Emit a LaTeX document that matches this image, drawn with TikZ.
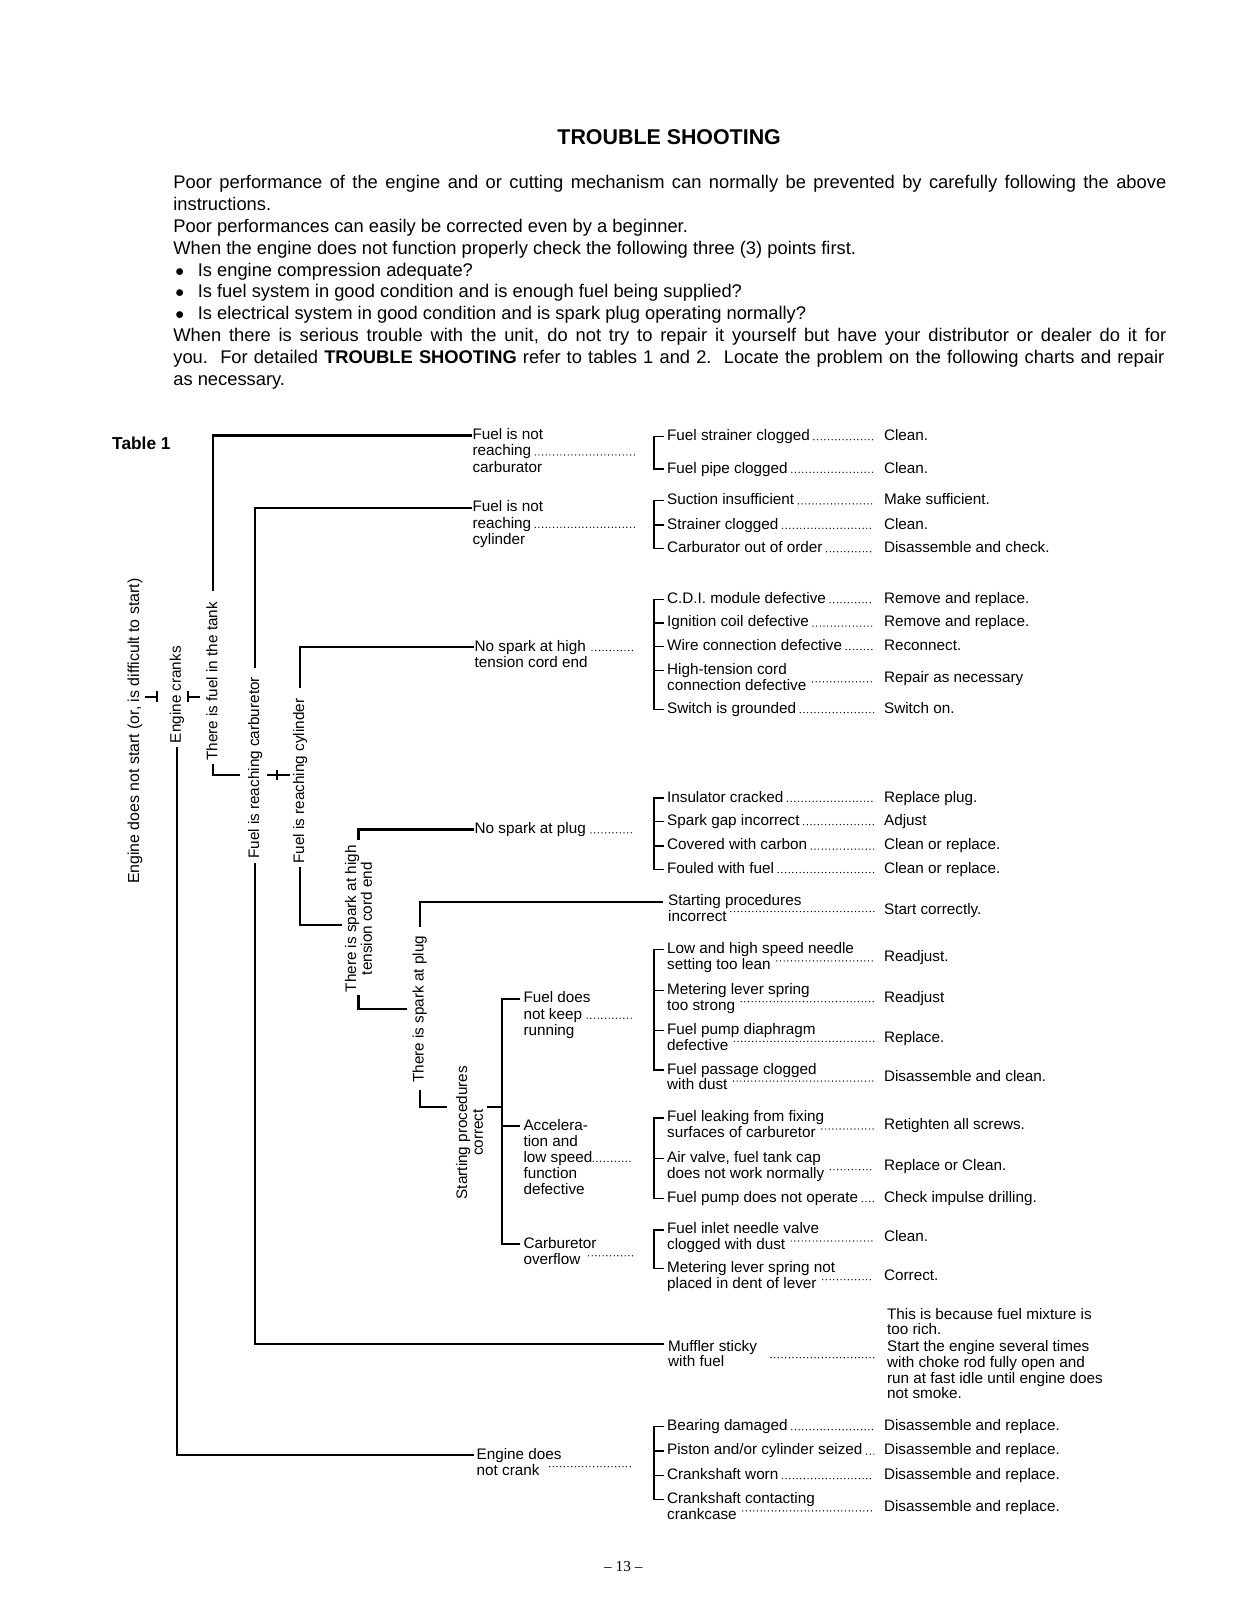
\documentclass[tikz,border=0pt]{standalone}
\usepackage{fontspec}
\setmainfont{Liberation Sans}
\newfontfamily\pgserif{Liberation Serif}
\usetikzlibrary{calc}
\newcommand\tabfont{\fontsize{15}{15.5}\selectfont}
\newcommand\hdfont{\fontsize{18}{22}\selectfont}
\tikzset{
  tb/.style={font=\tabfont, inner sep=0pt, outer sep=0pt, anchor=base west, text height=11pt, text depth=3pt},
  hd/.style={font=\hdfont, inner sep=0pt, anchor=base west},
  rot/.style={font=\tabfont, inner sep=0pt, rotate=90, anchor=center, text height=11pt, text depth=3pt},
  rottwo/.style={font=\tabfont, inner sep=0pt, rotate=90, anchor=center, align=center},
  tree/.style={line width=2.2pt, draw=black},
  brk/.style={line width=1.4pt, draw=black},
  leader/.style={line width=1.4pt, line cap=round, dash pattern=on 0pt off 3.6pt, draw=black},
}
\newcommand\itm[4]{%
  \node[tb] (#1) at (655,#2+4.5) {#3};
  \node[tb] (#1r) at (868,#2+4.5) {#4};
  \coordinate (#1e) at (858,#2+3.7);
  \path (#1.base east) ++(4pt,0) coordinate (#1s);
  \draw[leader] (#1s |- #1e) -- (#1e);
}
\newcommand\itmii[5]{%
  \node[tb] (#1) at (655,#2+4.5) {#3};
  \node[tb] (#1b) at (655,#2+20) {#4};
  \node[tb] (#1r) at (868,#2+12.25) {#5};
  \coordinate (#1e) at (858,#2+11.45);
  \path (#1b.base east) ++(6pt,0) coordinate (#1s);
  \draw[leader] (#1s |- #1e) -- (#1e);
}
\newcommand\leaddots[5]{%
  \path (#1.base east) ++(#2,0) coordinate (#5s);
  \coordinate (#5e) at (#3,#4);
  \draw[leader] (#5s |- #5e) -- (#5e);
}
\newcommand\brtick[1]{\draw[brk] ([xshift=-13pt]#1.west) -- ([xshift=-3pt]#1.west);}
\newcommand\brgrp[2]{\draw[brk] ([xshift=-3pt]#1.west) -- ++(-10pt,0) |- ([xshift=-3pt]#2.west);}
\begin{document}
\begin{tikzpicture}[x=1pt,y=-1pt]
\useasboundingbox (0,0) rectangle (1219,1568);
\fill[white] (0,0) rectangle (1219,1568);

% ---------- header ----------
\node[font=\bfseries\fontsize{21}{24}\selectfont, inner sep=0pt, anchor=base] (title) at (657,141.5) {TROUBLE SHOOTING};
\node[hd] (h1) at (170,185) {\makebox[975pt][s]{Poor performance of the engine and or cutting mechanism can normally be prevented by carefully following the above}};
\node[hd] (h2) at (170,206.5) {instructions.};
\node[hd] (h3) at (170,228) {Poor performances can easily be corrected even by a beginner.};
\node[hd] (h4) at (170,249.5) {When the engine does not function properly check the following three (3) points first.};
\node[hd] (b1) at (172,271) {$\bullet$};
\node[hd] (h5) at (194,271) {Is engine compression adequate?};
\node[hd] (b2) at (172,292.5) {$\bullet$};
\node[hd] (h6) at (194,292.5) {Is fuel system in good condition and is enough fuel being supplied?};
\node[hd] (b3) at (172,314) {$\bullet$};
\node[hd] (h7) at (194,314) {Is electrical system in good condition and is spark plug operating normally?};
\node[hd] (h8) at (170,335.5) {\makebox[975pt][s]{When there is serious trouble with the unit, do not try to repair it yourself but have your distributor or dealer do it for}};
\node[hd] (h9) at (170,357) {\makebox[973pt][s]{you.\ \ For detailed \textbf{TROUBLE SHOOTING} refer to tables 1 and 2.\ \ Locate the problem on the following charts and repair}};
\node[hd] (h10) at (170,378.5) {as necessary.};

\node[font=\bfseries\fontsize{17}{20}\selectfont, inner sep=0pt, anchor=base west] (tab) at (110,441) {Table 1};

% ---------- rotated conditions ----------
\node[rot, font=\fontsize{15.6}{16}\selectfont] (root) at (132.5,718) {Engine does not start (or, is difficult to start)};
\node[rot] (cranks) at (173.5,682) {Engine cranks};
\node[rot] (tank) at (209.5,669) {There is fuel in the tank};
\node[rot] (carb) at (250.5,754) {Fuel is reaching carburetor};
\node[rot] (cyl) at (294.5,767) {Fuel is reaching cylinder};
\node[rottwo] (sph) at (352,902) {There is spark at high\\tension cord end};
\node[rot] (spp) at (412,991) {There is spark at plug};
\node[rottwo] (spc) at (461,1112) {Starting procedures\\correct};

% ---------- middle labels ----------
\node[tb] (m1a) at (464,431.5) {Fuel is not};
\node[tb] (m1b) at (464,447.5) {reaching};
\node[tb] (m1c) at (464,463.5) {carburator};
\leaddots{m1b}{4pt}{625}{446.7}{m1d}
\node[tb] (m2a) at (464,502.5) {Fuel is not};
\node[tb] (m2b) at (464,518.5) {reaching};
\node[tb] (m2c) at (464,534.5) {cylinder};
\leaddots{m2b}{4pt}{625}{517.7}{m2d}
\node[tb] (m3a) at (466,639.5) {No spark at high};
\node[tb] (m3b) at (466,655.5) {tension cord end};
\leaddots{m3a}{6pt}{622}{638.7}{m3d}
\node[tb] (m4) at (466,818.5) {No spark at plug};
\leaddots{m4}{5pt}{622}{817.7}{m4d}
\node[tb] (m5a) at (514,984.5) {Fuel does};
\node[tb] (m5b) at (514,1000.5) {not keep};
\node[tb] (m5c) at (514,1016.5) {running};
\leaddots{m5b}{5pt}{622}{999.7}{m5d}
\node[tb] (m6a) at (514,1109.5) {Accelera-};
\node[tb] (m6b) at (514,1125.25) {tion and};
\node[tb] (m6c) at (514,1141) {low speed};
\node[tb] (m6d) at (514,1156.75) {function};
\node[tb] (m6e) at (514,1172.5) {defective};
\leaddots{m6c}{1pt}{622}{1140.2}{m6f}
\node[tb] (m7a) at (514,1225.5) {Carburetor};
\node[tb] (m7b) at (514,1241.5) {overflow};
\leaddots{m7b}{8pt}{622}{1233}{m7d}
\node[tb] (m8a) at (468,1432.5) {Engine does};
\node[tb] (m8b) at (468,1448.5) {not crank};
\leaddots{m8b}{10pt}{622}{1440}{m8d}

% ---------- causes and remedies ----------
\itm{A1}{428}{Fuel strainer clogged}{Clean.}
\itm{A2}{460}{Fuel pipe clogged}{Clean.}
\brgrp{A1}{A2}
\itm{B1}{491}{Suction insufficient}{Make sufficient.}
\itm{B2}{515}{Strainer clogged}{Clean.}
\itm{B3}{538}{Carburator out of order}{Disassemble and check.}
\brgrp{B1}{B3}\brtick{B2}
\itm{C1}{588}{C.D.I. module defective}{Remove and replace.}
\itm{C2}{611}{Ignition coil defective}{Remove and replace.}
\itm{C3}{634}{Wire connection defective}{Reconnect.}
\itmii{C4}{658}{High-tension cord}{connection defective}{Repair as necessary}
\itm{C5}{696}{Switch is grounded}{Switch on.}
\brgrp{C1}{C5}\brtick{C2}\brtick{C3}\brtick{C4}
\itm{D1}{783}{Insulator cracked}{Replace plug.}
\itm{D2}{806}{Spark gap incorrect}{Adjust}
\itm{D3}{830}{Covered with carbon}{Clean or replace.}
\itm{D4}{853}{Fouled with fuel}{Clean or replace.}
\brgrp{D1}{D4}\brtick{D2}\brtick{D3}
\node[tb] (spi) at (656,889.5) {Starting procedures};
\node[tb] (spib) at (656,904.5) {incorrect};
\node[tb] (spir) at (868,897.5) {Start correctly.};
\leaddots{spib}{4pt}{858}{895}{spid}
\itmii{E1}{932}{Low and high speed needle}{setting too lean}{Readjust.}
\itmii{E2}{972}{Metering lever spring}{too strong}{Readjust}
\itmii{E3}{1011}{Fuel pump diaphragm}{defective}{Replace.}
\itmii{E4}{1050}{Fuel passage clogged}{with dust}{Disassemble and clean.}
\brgrp{E1}{E4}\brtick{E2}\brtick{E3}
\itmii{F1}{1097}{Fuel leaking from fixing}{surfaces of carburetor}{Retighten all screws.}
\itmii{F2}{1137}{Air valve, fuel tank cap}{does not work normally}{Replace or Clean.}
\itm{F3}{1176}{Fuel pump does not operate}{Check impulse drilling.}
\brgrp{F1}{F3}\brtick{F2}
\itmii{G1}{1207}{Fuel inlet needle valve}{clogged with dust}{Clean.}
\itmii{G2}{1245}{Metering lever spring not}{placed in dent of lever}{Correct.}
\brgrp{G1}{G2}
\node[tb] (mfa) at (656,1326.5) {Muffler sticky};
\node[tb] (mfb) at (656,1341.5) {with fuel};
\leaddots{mfb}{46pt}{858}{1333}{mfd}
\node[tb] (mr1) at (871,1295.5) {This is because fuel mixture is};
\node[tb] (mr2) at (871,1310.5) {too rich.};
\node[tb] (mr3) at (871,1326.5) {Start the engine several times};
\node[tb] (mr4) at (871,1342.5) {with choke rod fully open and};
\node[tb] (mr5) at (871,1358.5) {run at fast idle until engine does};
\node[tb] (mr6) at (871,1373.5) {not smoke.};
\itm{H1}{1400}{Bearing damaged}{Disassemble and replace.}
\itm{H2}{1424}{Piston and/or cylinder seized}{Disassemble and replace.}
\itm{H3}{1448}{Crankshaft worn}{Disassemble and replace.}
\itmii{H4}{1472}{Crankshaft contacting}{crankcase}{Disassemble and replace.}
\brgrp{H1}{H4}\brtick{H2}\brtick{H3}

% ---------- tree connectors ----------
\coordinate (jt) at (236,761);
\coordinate (jc1) at (262,761); \coordinate (jc2) at (285,761);
\coordinate (jc3) at (272,756); \coordinate (jc4) at (272,766);
\coordinate (jr1) at (142,684); \coordinate (jr2) at (154,684);
\coordinate (jr3) at (154,678.5); \coordinate (jr4) at (154,689.5);
\coordinate (jk1) at (184.5,678.5); \coordinate (jk2) at (184.5,689.5);
\coordinate (jk3) at (184.5,684); \coordinate (jk4) at (196,684);
\coordinate (jy) at (336,908);
\coordinate (jh) at (400,991);
\coordinate (jp) at (439,1087);
\coordinate (js) at (478,1087); \coordinate (jb) at (493,1087);

\draw[tree] ([yshift=11pt]tank.east) |- ([xshift=-1pt]m1a.west);
\draw[tree] ([yshift=-3pt]tank.west) |- (jt);
\draw[tree] ([yshift=9pt]carb.east) |- ([xshift=-1pt]m2a.west);
\draw[tree] ([yshift=-4pt]carb.west) |- ([xshift=-4pt,yshift=3pt]mfa.west);
\draw[tree] ([yshift=10pt]cyl.east) |- ([xshift=-1pt]m3a.west);
\draw[tree] ([yshift=-3pt]cyl.west) |- (jy);
\draw[tree] ([yshift=5pt]sph.east) |- ([xshift=-1pt]m4.west);
\draw[tree] ([yshift=-3pt]sph.west) |- (jh);
\draw[tree] ([yshift=9pt]spp.east) |- ([xshift=-5pt]spi.west);
\draw[tree] ([yshift=-7pt]spp.west) |- (jp);
\draw[tree] (js) -- (jb);
\draw[tree] ([xshift=-3pt]m5a.west) -| (jb) |- ([xshift=-3pt]m7a.west);
\draw[tree] (jb |- m6a.west) -- ([xshift=-3pt]m6a.west);
\draw[tree] ([yshift=-4pt]cranks.west) |- ([xshift=-3pt]m8a.west);
\draw[tree] (jr1) -- (jr2); \draw[tree] (jr3) -- (jr4);
\draw[tree] (jk1) -- (jk2); \draw[tree] (jk3) -- (jk4);
\draw[tree] (jc1) -- (jc2); \draw[tree] (jc3) -- (jc4);

% page number
\node[font=\pgserif\fontsize{15}{17}\selectfont, inner sep=0pt, anchor=base] (pg) at (612,1543) {– 13 –};
\end{tikzpicture}
\end{document}
